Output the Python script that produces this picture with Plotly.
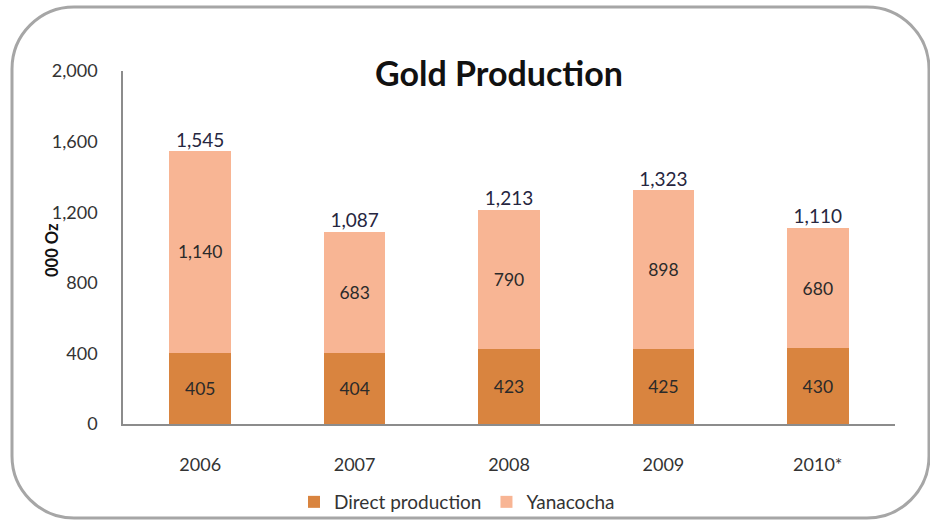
import plotly.graph_objects as go

years = ["2006", "2007", "2008", "2009", "2010*"]
direct = [405, 404, 423, 425, 430]
yanacocha = [1140, 683, 790, 898, 680]
totals = [1545, 1087, 1213, 1323, 1110]

W, H = 930, 521
L, R, T, B = 123, 35, 71, 97
pw, ph = W - L - R, H - T - B


def px(x):
    return (x - L) / pw


def py(y):
    return (H - B - y) / ph


def rounded_rect(x0, y0, x1, y1, r):
    k = 0.5523 * r
    pts = [
        f"M {px(x0 + r)} {py(y0)}",
        f"L {px(x1 - r)} {py(y0)}",
        f"C {px(x1 - r + k)} {py(y0)} {px(x1)} {py(y0 + r - k)} {px(x1)} {py(y0 + r)}",
        f"L {px(x1)} {py(y1 - r)}",
        f"C {px(x1)} {py(y1 - r + k)} {px(x1 - r + k)} {py(y1)} {px(x1 - r)} {py(y1)}",
        f"L {px(x0 + r)} {py(y1)}",
        f"C {px(x0 + r - k)} {py(y1)} {px(x0)} {py(y1 - r + k)} {px(x0)} {py(y1 - r)}",
        f"L {px(x0)} {py(y0 + r)}",
        f"C {px(x0)} {py(y0 + r - k)} {px(x0 + r - k)} {py(y0)} {px(x0 + r)} {py(y0)}",
        "Z",
    ]
    return " ".join(pts)


FONT = "Lato, 'Open Sans', sans-serif"

fig = go.Figure()
fig.add_trace(go.Bar(
    x=years, y=direct, name="Direct production",
    marker=dict(color="#D9843F", line=dict(width=0)),
    text=[f"{v:,}" for v in direct], textposition="inside",
    insidetextanchor="middle", textangle=0,
    textfont=dict(size=17.5, color="#2a2a2a", family=FONT),
))
fig.add_trace(go.Bar(
    x=years, y=yanacocha, name="Yanacocha",
    marker=dict(color="#F8B594", line=dict(width=0)),
    text=[f"{v:,}" for v in yanacocha], textposition="inside",
    insidetextanchor="middle", textangle=0,
    textfont=dict(size=17.5, color="#2a2a2a", family=FONT),
))
fig.add_trace(go.Scatter(
    x=years, y=totals, mode="text",
    text=[f"{v:,}" for v in totals], textposition="top center",
    textfont=dict(size=19, color="#262640", family=FONT),
    showlegend=False, hoverinfo="skip",
))

fig.add_shape(type="path", xref="paper", yref="paper",
              path=rounded_rect(12, 7, 929, 518, 62),
              line=dict(color="#A6A6A6", width=3), layer="below")

fig.add_annotation(text="<b>Gold Production</b>", xref="paper", yref="paper",
                   x=px(499), y=py(50), showarrow=False,
                   font=dict(size=34, color="#111111", family=FONT))
fig.add_annotation(text="<b>000 Oz</b>", xref="paper", yref="paper",
                   x=px(40), y=py(250), showarrow=False, textangle=-90,
                   font=dict(size=16.5, color="#111111", family=FONT))

fig.update_layout(
    width=W, height=H,
    barmode="stack", bargap=0.6,
    plot_bgcolor="white", paper_bgcolor="white",
    margin=dict(l=L, r=R, t=T, b=B, autoexpand=False),
    font=dict(family=FONT, size=18, color="#333333"),
    legend=dict(orientation="h", x=px(457), xanchor="center",
                y=py(502), yanchor="middle", bgcolor="rgba(0,0,0,0)",
                font=dict(size=19, color="#333333"), traceorder="normal"),
)
fig.update_yaxes(range=[0, 2000], dtick=400, tickformat=",",
                 showgrid=False, showline=True, linecolor="#8C8C8C",
                 linewidth=1.5, ticks="", zeroline=False,
                 ticklabelstandoff=20)
fig.update_xaxes(showline=True, linecolor="#8C8C8C", linewidth=1.5,
                 ticks="", ticklabelstandoff=24)

fig.write_html("out.html", config={"displayModeBar": False},
               post_script="document.body.style.margin='0';")
